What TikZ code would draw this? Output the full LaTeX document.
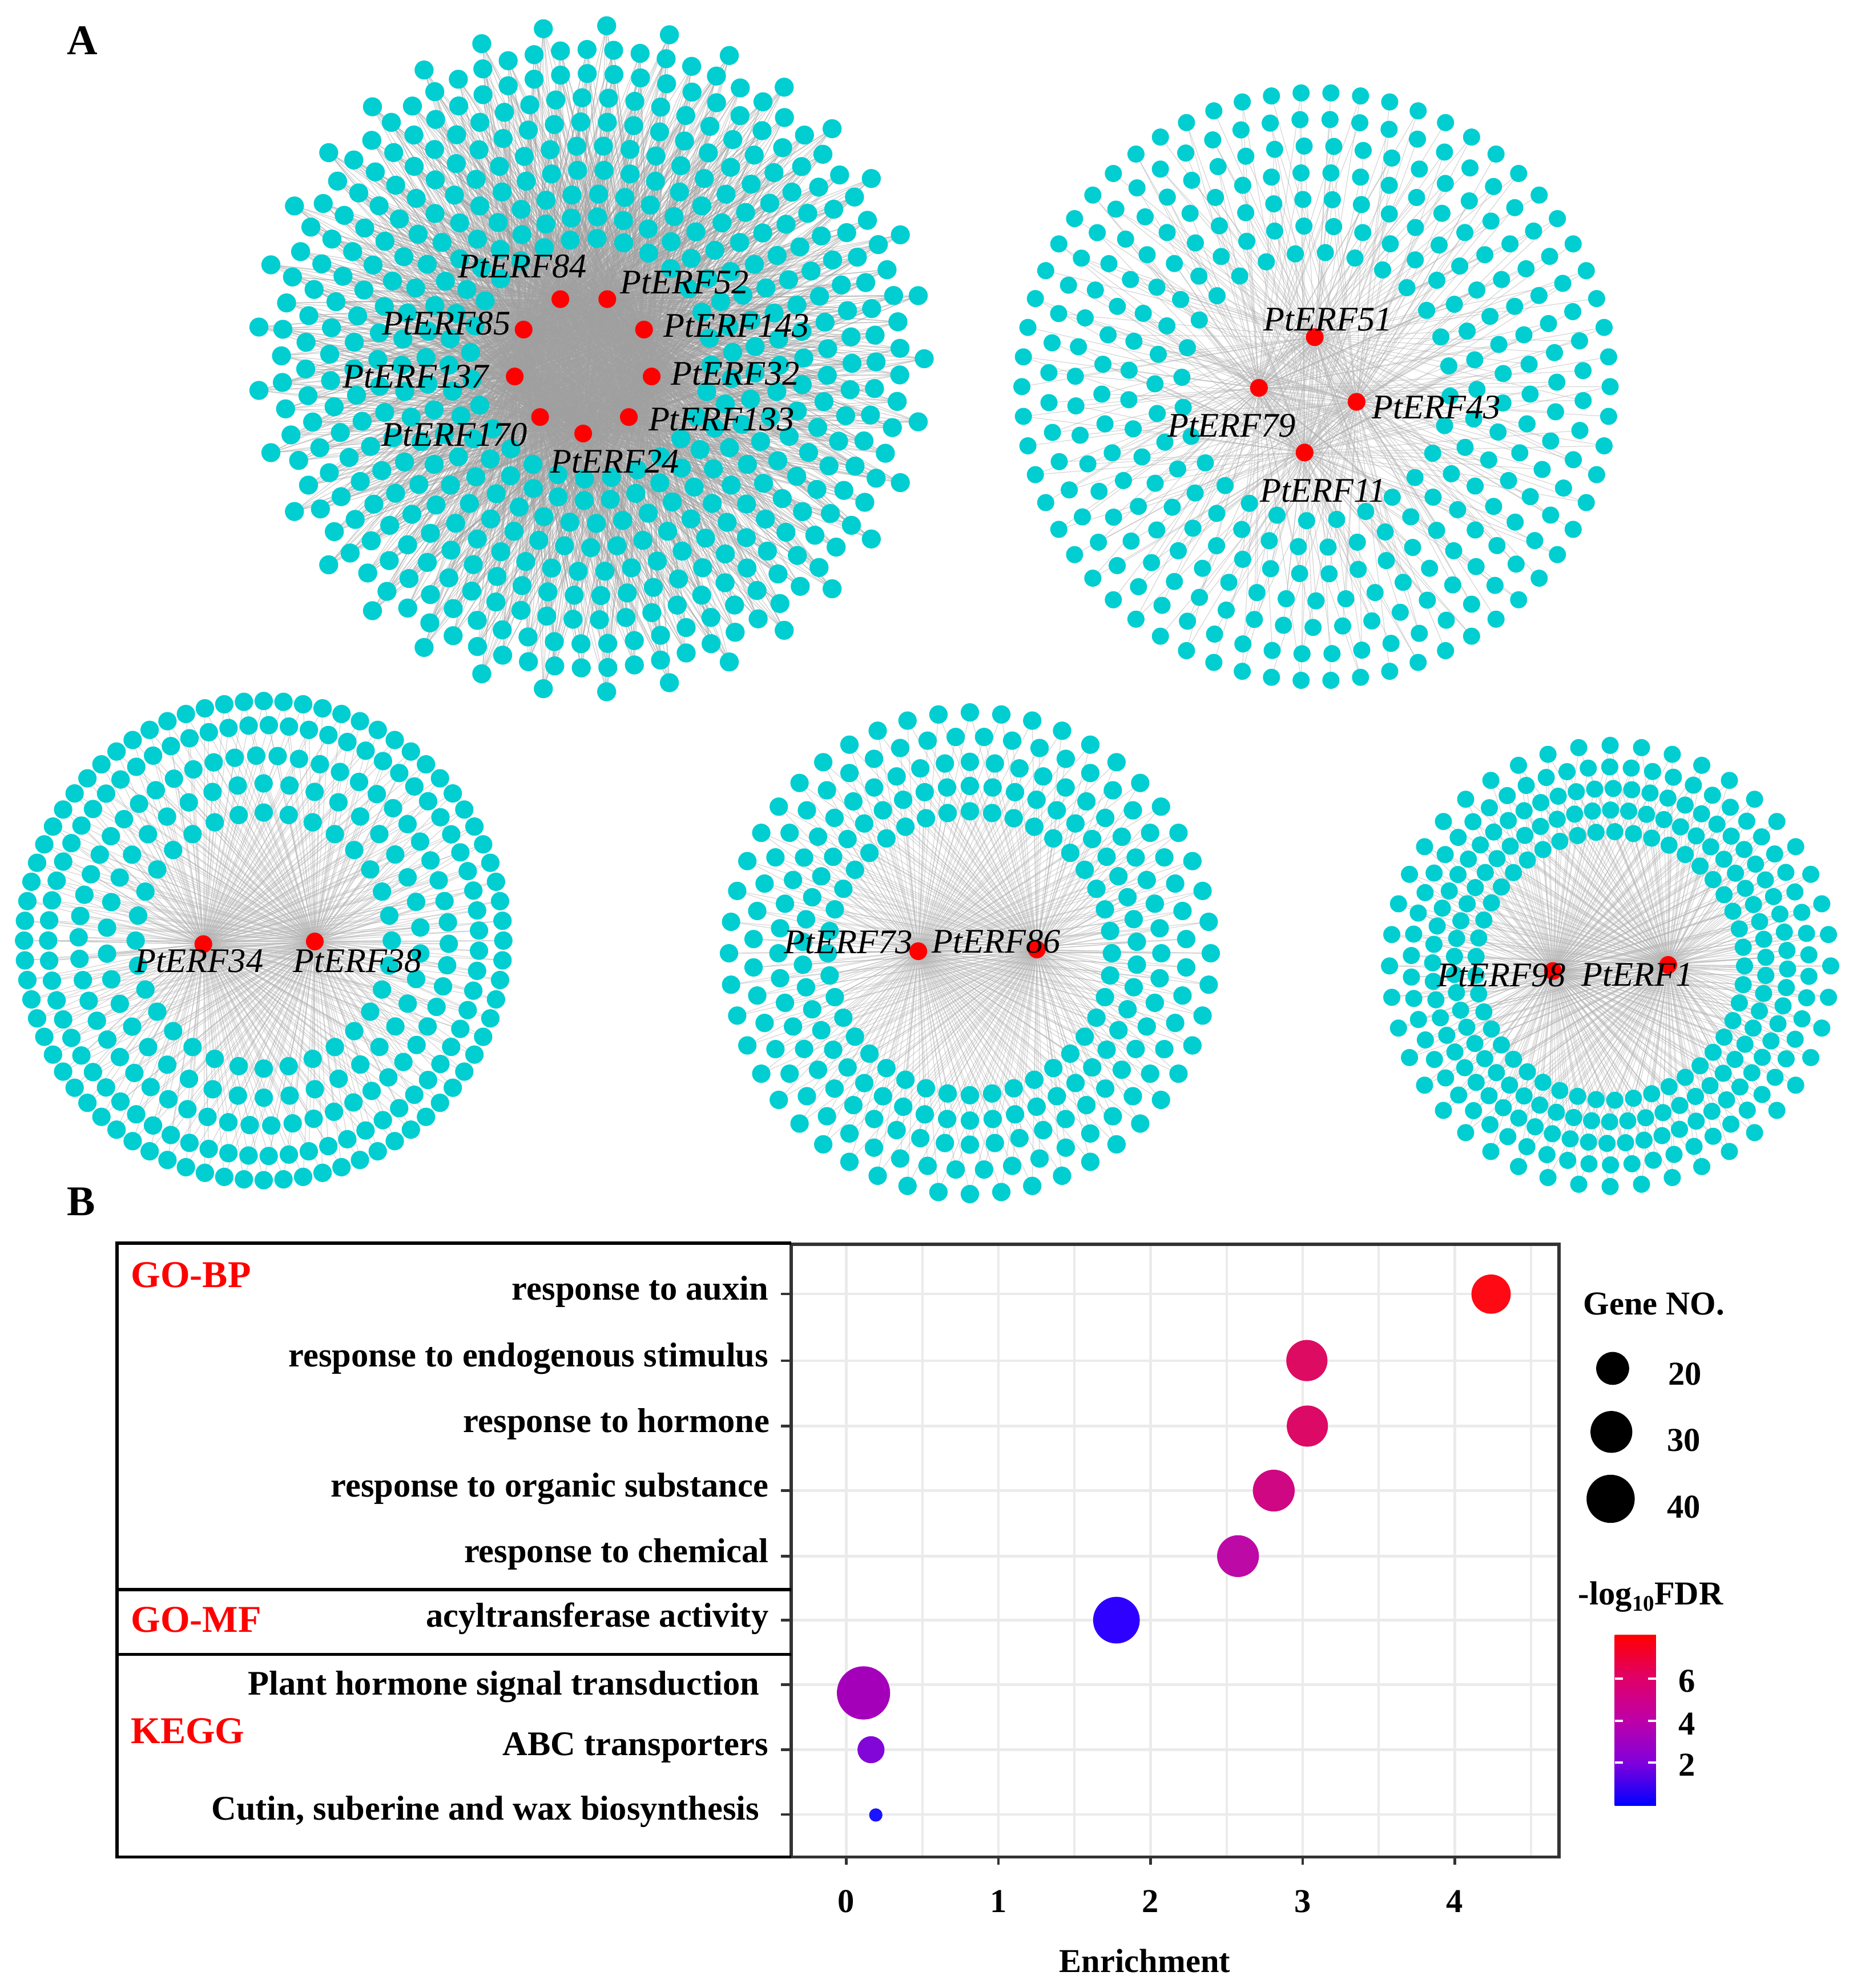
\documentclass[tikz,border=0pt]{standalone}
\usepackage{fontspec}
\setmainfont{Liberation Serif}
\pgfdeclarelayer{bg}
\pgfsetlayers{bg,main}
\definecolor{cyn}{HTML}{00CED1}
\definecolor{hubred}{HTML}{FF0000}
\definecolor{gridc}{HTML}{EBEBEB}
\definecolor{cAux}{HTML}{FF0A14}
\definecolor{cEnd}{HTML}{DE0B62}
\definecolor{cHor}{HTML}{DC0A66}
\definecolor{cOrg}{HTML}{CF0783}
\definecolor{cChe}{HTML}{BD0AA6}
\definecolor{cAcy}{HTML}{2E00FF}
\definecolor{cPla}{HTML}{A400BA}
\definecolor{cAbc}{HTML}{8306D8}
\definecolor{cCut}{HTML}{1A14FF}
\definecolor{cbA}{HTML}{8000DC}
\definecolor{cbB}{HTML}{BE00A8}
\definecolor{cbC}{HTML}{E00068}
\pgfdeclareverticalshading{fdrbar}{100bp}{color(0bp)=(blue); color(25bp)=(blue); color(37.5bp)=(cbA); color(50bp)=(cbB); color(62.5bp)=(cbC); color(75bp)=(red); color(100bp)=(red)}
\def\ringsA{263/33/0,244/73/3,225/67/6,206/62/1,187/56/4,168/50/7,149/45/2,130/39/5,112/34/8,95/28/3}
\def\ringsB{232/62/0,211/56/3,190/51/6,169/45/2,148/40/5,127/34/1,106/28/4}
\def\ringsC{189/76/0,170/67/2.7,146/54/1,124/38/4.7,101/32/0}
\def\ringsD{190/48/0,171/48/3.75,151/48/0,132/46/3.9,112/40/0}
\def\ringsE{174/44/0,157/58/3,140/60/1,123/54/3.5,106/45/0}
\begin{document}
\begin{tikzpicture}[x=0.02cm,y=-0.02cm,
  cyd/.style={circle,fill=cyn,inner sep=0pt,minimum size=#1},
  hub/.style={circle,fill=hubred,inner sep=0pt,minimum size=0.28cm},
  lnk/.style={draw=gray!60,line width=0.3pt,opacity=0.55},
  lnkd/.style={draw=gray!75,line width=0.3pt,opacity=0.5},
  glab/.style={inner sep=0pt,font=\fontsize{15.5}{18}\selectfont\itshape},
  plab/.style={inner sep=0pt,font=\fontsize{19}{22}\selectfont\bfseries},
  rowlab/.style={inner sep=0pt,anchor=base east,font=\fontsize{15.5}{18}\selectfont\bfseries},
  catlab/.style={inner sep=0pt,anchor=west,text=red,font=\fontsize{17}{20}\selectfont\bfseries},
  chtxt/.style={inner sep=0pt,font=\fontsize{15}{18}\selectfont\bfseries},
  grd/.style={draw=gridc,line width=1.1pt},
  bub/.style={circle,inner sep=0pt,minimum size=#1},
  axl/.style={draw=black!80,line width=1.4pt}
]
\useasboundingbox (0,0) rectangle (1458,1568.3);

% ---------------- panel labels
\node[plab] (pA) at (65,32) {A};
\node[plab] (pB) at (64,948) {B};

% ---------------- hubs
\foreach \hx/\hy [count=\i] in {442/236,479/236,413/260,508/260,406/297,514/297,496/329,426/329,460/342}
  \node[hub] (h1-\i) at (\hx,\hy) {};
\foreach \hx/\hy [count=\i] in {1037/266,993/306,1070/317,1029/357}
  \node[hub] (h2-\i) at (\hx,\hy) {};
\node[hub] (h3-1) at (160.4,744.8) {};
\node[hub] (h3-2) at (248.3,742.7) {};
\node[hub] (h4-1) at (724.3,750.4) {};
\node[hub] (h4-2) at (817.8,749.0) {};
\node[hub] (h5-1) at (1224.9,766.0) {};
\node[hub] (h5-2) at (1315.8,761.2) {};

% ---------------- target genes (rings)
\begin{scope}[shift={(466,283)}]
\foreach \rr/\nn/\ph [count=\k] in \ringsA {
  \foreach \j in {1,...,\nn}
    \node[cyd=0.30cm] (p1-\k-\j) at ({\ph+\j*(360/\nn)}:\rr) {};
}
\end{scope}
\begin{scope}[shift={(1038,305)}]
\foreach \rr/\nn/\ph [count=\k] in \ringsB {
  \foreach \j in {1,...,\nn}
    \node[cyd=0.27cm] (p2-\k-\j) at ({\ph+\j*(360/\nn)}:\rr) {};
}
\end{scope}
\begin{scope}[shift={(208,742)}]
\foreach \rr/\nn/\ph [count=\k] in \ringsC {
  \foreach \j in {1,...,\nn}
    \node[cyd=0.29cm] (p3-\k-\j) at ({\ph+\j*(360/\nn)}:\rr) {};
}
\end{scope}
\begin{scope}[shift={(765,752)}]
\foreach \rr/\nn/\ph [count=\k] in \ringsD {
  \foreach \j in {1,...,\nn}
    \node[cyd=0.29cm] (p4-\k-\j) at ({\ph+\j*(360/\nn)}:\rr) {};
}
\end{scope}
\begin{scope}[shift={(1270,762)}]
\foreach \rr/\nn/\ph [count=\k] in \ringsE {
  \foreach \j in {1,...,\nn}
    \node[cyd=0.27cm] (p5-\k-\j) at ({\ph+\j*(360/\nn)}:\rr) {};
}
\end{scope}

% ---------------- edges (one background layer block)
\begin{pgfonlayer}{bg}
\foreach \rr/\nn/\ph [count=\k] in \ringsA {
  \foreach \j in {1,...,\nn}{
    \foreach \s in {0,1,2,4,5,6,8}{
      \pgfmathtruncatemacro\ha{mod(\j+\k+\s,9)+1}
      \draw[lnkd] (h1-\ha.center) -- (p1-\k-\j.center);
    }
  }
}
\foreach \rr/\nn/\ph [count=\k] in \ringsB {
  \foreach \j in {1,...,\nn}{
    \pgfmathtruncatemacro\ha{mod(\j+\k,4)+1}
    \pgfmathtruncatemacro\hb{mod(\j+\k+2,4)+1}
    \draw[lnk] (h2-\ha.center) -- (p2-\k-\j.center);
    \ifodd\j\else\draw[lnk] (h2-\hb.center) -- (p2-\k-\j.center);\fi
  }
}
\foreach \rr/\nn/\ph [count=\k] in \ringsC {
  \foreach \j in {1,...,\nn}{
    \draw[lnk] (h3-1.center) -- (p3-\k-\j.center);
    \draw[lnk] (h3-2.center) -- (p3-\k-\j.center);
  }
}
\foreach \rr/\nn/\ph [count=\k] in \ringsD {
  \foreach \j in {1,...,\nn}{
    \draw[lnk] (h4-1.center) -- (p4-\k-\j.center);
    \draw[lnk] (h4-2.center) -- (p4-\k-\j.center);
  }
}
\foreach \rr/\nn/\ph [count=\k] in \ringsE {
  \foreach \j in {1,...,\nn}{
    \draw[lnk] (h5-1.center) -- (p5-\k-\j.center);
    \draw[lnk] (h5-2.center) -- (p5-\k-\j.center);
  }
}
\end{pgfonlayer}

% ---------------- gene labels
\node[glab] (l1-1) at (412,210) {PtERF84};
\node[glab] (l1-2) at (540,223) {PtERF52};
\node[glab] (l1-3) at (352,255) {PtERF85};
\node[glab] (l1-4) at (581,257) {PtERF143};
\node[glab] (l1-5) at (328,297) {PtERF137};
\node[glab] (l1-6) at (580,295) {PtERF32};
\node[glab] (l1-7) at (569,331) {PtERF133};
\node[glab] (l1-8) at (358.5,343) {PtERF170};
\node[glab] (l1-9) at (485,364) {PtERF24};
\node[glab] (l2-1) at (1047.5,252) {PtERF51};
\node[glab] (l2-2) at (971.5,336) {PtERF79};
\node[glab] (l2-3) at (1133,321.6) {PtERF43};
\node[glab] (l2-4) at (1043.5,387) {PtERF11};
\node[glab] (l3-1) at (157,758) {PtERF34};
\node[glab] (l3-2) at (282,758) {PtERF38};
\node[glab] (l4-1) at (669.3,743.5) {PtERF73};
\node[glab] (l4-2) at (785.7,743) {PtERF86};
\node[glab] (l5-1) at (1184.3,769.5) {PtERF98};
\node[glab] (l5-2) at (1291.3,769) {PtERF1};

% ---------------- panel B: grid
\foreach \v in {0,0.5,...,4.5}
  \draw[grd] ({667.5+120*\v},981.5) -- ({667.5+120*\v},1465);
\foreach \yy in {1020.9,1073.3,1125.0,1175.9,1227.6,1278.1,1329.0,1380.3,1431.3}{
  \draw[grd] (624.1,\yy) -- (1229.7,\yy);
  \draw[axl,line width=1.1pt] (616,\yy) -- (624.1,\yy);
}
% bubbles
\node[bub=0.62cm,fill=cAux] (b1) at (1176.1,1020.9) {};
\node[bub=0.65cm,fill=cEnd] (b2) at (1030.8,1073.3) {};
\node[bub=0.65cm,fill=cHor] (b3) at (1031.2,1125.0) {};
\node[bub=0.66cm,fill=cOrg] (b4) at (1004.7,1175.9) {};
\node[bub=0.66cm,fill=cChe] (b5) at (976.5,1227.6) {};
\node[bub=0.736cm,fill=cAcy] (b6) at (880.6,1278.1) {};
\node[bub=0.84cm,fill=cPla] (b7) at (681.1,1335.5) {};
\node[bub=0.426cm,fill=cAbc] (b8) at (687.0,1380.3) {};
\node[bub=0.21cm,fill=cCut] (b9) at (690.8,1431.8) {};
% panel border
\draw[axl] (624.1,981.5) rectangle (1229.7,1465);
% left box
\draw[line width=1.4pt] (624.1,980.7) -- (92.3,980.7) -- (92.3,1465) -- (624.1,1465);
\draw[line width=1.4pt] (92.3,1254) -- (624.1,1254);
\draw[line width=1.4pt] (92.3,1305) -- (624.1,1305);
% x ticks
\foreach \v in {0,1,2,3,4}{
  \draw[axl,line width=1.1pt] ({667.5+120*\v},1465) -- ({667.5+120*\v},1471);
  \node[chtxt] (xt\v) at ({667.5+120*\v},1500) {\v};
}
\node[chtxt] (xlab) at (903,1547) {Enrichment};

% row labels
\node[rowlab] (r1) at (606.5,1025.5) {response to auxin};
\node[rowlab] (r2) at (606.5,1078.3) {response to endogenous stimulus};
\node[rowlab] (r3) at (607.5,1130.0) {response to hormone};
\node[rowlab] (r4) at (606.5,1180.9) {response to organic substance};
\node[rowlab] (r5) at (606.5,1232.6) {response to chemical};
\node[rowlab] (r6) at (606.5,1283.6) {acyltransferase activity};
\node[rowlab] (r7) at (599.2,1337.2) {Plant hormone signal transduction};
\node[rowlab] (r8) at (606.5,1384.8) {ABC transporters};
\node[rowlab] (r9) at (599.2,1435.8) {Cutin, suberine and wax biosynthesis};
\node[catlab] (c1) at (103,1006) {GO-BP};
\node[catlab] (c2) at (103,1277.6) {GO-MF};
\node[catlab] (c3) at (103,1365.4) {KEGG};

% legend: size
\node[chtxt] (lg1) at (1304.5,1028.6) {Gene NO.};
\node[bub=0.52cm,fill=black] (s1) at (1272,1079.5) {};
\node[bub=0.66cm,fill=black] (s2) at (1271,1129.6) {};
\node[bub=0.76cm,fill=black] (s3) at (1270.4,1182.4) {};
\node[chtxt] (s1t) at (1329,1084) {20};
\node[chtxt] (s2t) at (1328,1136) {30};
\node[chtxt] (s3t) at (1328,1189) {40};
% legend: colour
\node[chtxt] (lg2) at (1302,1259.8) {-log\raisebox{-0.4ex}{\fontsize{10}{10}\selectfont 10}FDR};
\shade[shading=fdrbar] (1273.6,1289.6) rectangle (1306.2,1424.4);
\foreach \yy/\lv in {1324.1/6,1357.7/4,1390.3/2}{
  \draw[white,line width=1pt] (1273.6,\yy) -- (1280,\yy);
  \draw[white,line width=1pt] (1299.8,\yy) -- (1306.2,\yy);
  \node[chtxt] (cb\lv) at (1330.5,\yy+2) {\lv};
}
\end{tikzpicture}
\end{document}
